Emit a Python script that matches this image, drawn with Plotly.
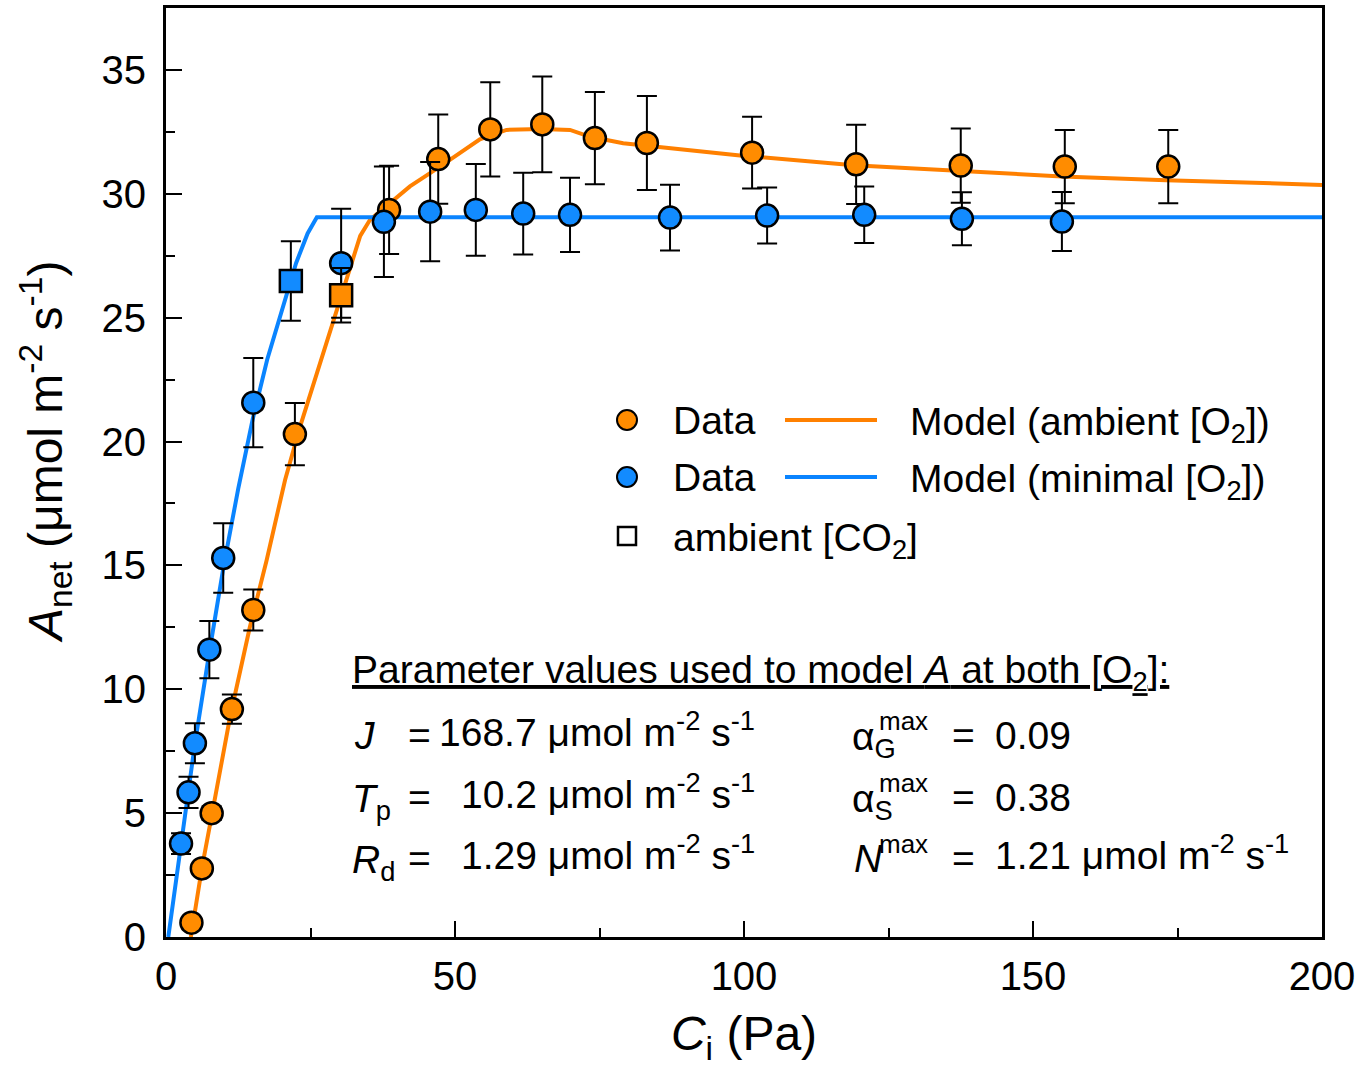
import plotly.graph_objects as go

# ---------------- data ----------------
# Ambient [O2] measurements (orange circles)
orange_ci = [4.4, 6.2, 7.9, 11.4, 15.1, 22.3, 38.6, 47.1, 56.1, 65.1, 74.2, 83.2, 101.4, 119.4, 137.5, 155.5, 173.4]
orange_a = [0.58, 2.77, 5.0, 9.2, 13.2, 20.3, 29.35, 31.4, 32.6, 32.8, 32.25, 32.05, 31.66, 31.19, 31.14, 31.1, 31.1]
orange_err = [0.0, 0.0, 0.28, 0.59, 0.83, 1.26, 1.78, 1.8, 1.9, 1.93, 1.86, 1.9, 1.45, 1.6, 1.5, 1.48, 1.48]

# Ambient [O2] at ambient [CO2] (orange square)
orange_sq_ci = [30.3]
orange_sq_a = [25.9]
orange_sq_err = [1.1]

# Minimal [O2] measurements (blue circles)
blue_ci = [2.6, 3.9, 5.0, 7.5, 9.9, 15.1, 30.3, 37.7, 45.7, 53.6, 61.8, 69.9, 87.2, 104.0, 120.8, 137.7, 155.0]
blue_a = [3.77, 5.84, 7.82, 11.6, 15.3, 21.57, 27.2, 28.87, 29.28, 29.35, 29.2, 29.15, 29.04, 29.12, 29.15, 28.99, 28.88]
blue_err = [0.42, 0.63, 0.81, 1.16, 1.4, 1.8, 2.2, 2.23, 2.0, 1.85, 1.65, 1.5, 1.33, 1.13, 1.14, 1.07, 1.19]

# Minimal [O2] at ambient [CO2] (blue square)
blue_sq_ci = [21.6]
blue_sq_a = [26.48]
blue_sq_err = [1.6]

# Model curves
model_amb_ci = [4.3, 6.2, 8.2, 11.1, 14.5, 17.4, 20.6, 23.2, 26.1, 29.0, 31.3, 33.6, 35.3, 38.2, 42.2,
                47.4, 54.3, 58.9, 65.0, 69.9, 73.4, 79.1, 87.8, 99.3, 119.0, 137.5, 155.0, 173.0, 200.0]
model_amb_a = [0.0, 2.77, 5.26, 8.9, 12.5, 15.2, 18.45, 20.6, 22.75, 24.9, 26.5, 28.3, 28.95, 29.5, 30.3,
               31.1, 32.2, 32.58, 32.62, 32.58, 32.3, 32.04, 31.84, 31.55, 31.15, 30.9, 30.7, 30.55, 30.36]
model_min_ci = [0.4, 2.5, 5.0, 7.5, 10.0, 12.5, 15.0, 17.5, 20.0, 22.5, 24.5, 26.1, 200.0]
model_min_a = [0.0, 3.7, 7.8, 11.5, 15.0, 18.1, 20.9, 23.3, 25.3, 27.2, 28.4, 29.05, 29.05]

x_ticks = [0, 50, 100, 150, 200]
y_ticks = [0, 5, 10, 15, 20, 25, 30, 35]

# ---------------- styling ----------------
ORANGE_LINE = "#FF8000"
ORANGE_FILL = "#FF8C00"
BLUE_LINE = "#0A84FF"
BLUE_FILL = "#128BFF"
FONT = "Liberation Sans, Arial, sans-serif"

W, H = 1366, 1067
L, R, T, B = 166, 44, 8, 130
X_RANGE = [0, 200]
Y_RANGE = [0, 37.5]


def px2x(p):
    return (p - L) / (W - L - R) * (X_RANGE[1] - X_RANGE[0]) + X_RANGE[0]


def px2y(p):
    return (H - B - p) / (H - B - T) * (Y_RANGE[1] - Y_RANGE[0]) + Y_RANGE[0]


err_style = dict(type="data", color="black", thickness=2, width=10)
mk_line = dict(color="black", width=2.5)

fig = go.Figure()
fig.add_trace(go.Scatter(x=model_amb_ci, y=model_amb_a, mode="lines",
                         line=dict(color=ORANGE_LINE, width=4), showlegend=False, hoverinfo="skip"))
fig.add_trace(go.Scatter(x=model_min_ci, y=model_min_a, mode="lines",
                         line=dict(color=BLUE_LINE, width=4), showlegend=False, hoverinfo="skip"))
fig.add_trace(go.Scatter(x=orange_ci, y=orange_a, mode="markers",
                         error_y=dict(array=orange_err, **err_style),
                         marker=dict(symbol="circle", size=22, color=ORANGE_FILL, line=mk_line),
                         showlegend=False))
fig.add_trace(go.Scatter(x=blue_ci, y=blue_a, mode="markers",
                         error_y=dict(array=blue_err, **err_style),
                         marker=dict(symbol="circle", size=22, color=BLUE_FILL, line=mk_line),
                         showlegend=False))
fig.add_trace(go.Scatter(x=orange_sq_ci, y=orange_sq_a, mode="markers",
                         error_y=dict(array=orange_sq_err, **err_style),
                         marker=dict(symbol="square", size=22, color=ORANGE_FILL, line=mk_line),
                         showlegend=False))
fig.add_trace(go.Scatter(x=blue_sq_ci, y=blue_sq_a, mode="markers",
                         error_y=dict(array=blue_sq_err, **err_style),
                         marker=dict(symbol="square", size=22, color=BLUE_FILL, line=mk_line),
                         showlegend=False))

annotations = []
shapes = []


def text(px, py, s, size=39, xanchor="left", color="black"):
    annotations.append(dict(x=px2x(px), y=px2y(py), xref="x", yref="y", text=s, showarrow=False,
                            xanchor=xanchor, yanchor="middle",
                            font=dict(family=FONT, size=size, color=color)))


# ---------------- legend (drawn as a key) ----------------
rows = [420, 477, 536]
for py, fill in [(rows[0], ORANGE_FILL), (rows[1], BLUE_FILL)]:
    shapes.append(dict(type="circle", xref="x", yref="y", xsizemode="pixel", ysizemode="pixel",
                       xanchor=px2x(627), yanchor=px2y(py), x0=-10, x1=10, y0=-10, y1=10,
                       fillcolor=fill, line=dict(color="black", width=2)))
shapes.append(dict(type="rect", xref="x", yref="y", xsizemode="pixel", ysizemode="pixel",
                   xanchor=px2x(627), yanchor=px2y(rows[2]), x0=-9, x1=9, y0=-9, y1=9,
                   fillcolor="white", line=dict(color="black", width=2.5)))
for py, col in [(rows[0], ORANGE_LINE), (rows[1], BLUE_LINE)]:
    shapes.append(dict(type="line", xref="x", yref="y", x0=px2x(785), x1=px2x(877),
                       y0=px2y(py), y1=px2y(py), line=dict(color=col, width=4)))
text(671, rows[0], "Data")
text(671, rows[1], "Data")
text(908, rows[0] + 4, "Model (ambient [O<sub>2</sub>])")
text(908, rows[1] + 4, "Model (minimal [O<sub>2</sub>])")
text(671, rows[2] + 4, "ambient [CO<sub>2</sub>]")

# ---------------- parameter block ----------------
text(350, 672, "<u>Parameter values used to model <i>A</i> at both [O<sub>2</sub>]:</u>")
prow = [735, 797, 858]
text(352, prow[0], "<i>J</i>")
text(350, prow[1] + 4, "<i>T</i><sub>p</sub>")
text(350, prow[2] + 4, "<i>R</i><sub>d</sub>")
for py in prow:
    text(406, py, "=")
text(757, prow[0] - 6, "168.7 μmol m<sup>-2</sup> s<sup>-1</sup>", xanchor="right")
text(757, prow[1] - 6, "10.2 μmol m<sup>-2</sup> s<sup>-1</sup>", xanchor="right")
text(757, prow[2] - 6, "1.29 μmol m<sup>-2</sup> s<sup>-1</sup>", xanchor="right")

text(850, prow[0] + 4, "α<sub>G</sub>")
text(850, prow[1] + 4, "α<sub>S</sub>")
text(852, prow[2], "<i>N</i>")
for py in prow:
    text(877, py - 14, "max", size=26)
    text(950, py, "=")
text(993, prow[0], "0.09")
text(993, prow[1], "0.38")
text(993, prow[2] - 6, "1.21 μmol m<sup>-2</sup> s<sup>-1</sup>")

# y-axis title (placed like the reference, slightly above the axis centre)
annotations.append(dict(x=(45 - L) / (W - L - R), y=px2y(452), xref="paper", yref="y",
                        text="<i>A</i><sub>net</sub> (μmol m<sup>-2</sup> s<sup>-1</sup>)",
                        textangle=-90, showarrow=False, xanchor="center", yanchor="middle",
                        font=dict(family=FONT, size=48, color="black")))

axis_common = dict(
    showline=True, linecolor="black", linewidth=3, mirror=True,
    ticks="inside", ticklen=16, tickwidth=2, tickcolor="black",
    showgrid=False, zeroline=False,
    tickfont=dict(family=FONT, size=40, color="black"),
)

fig.update_layout(
    width=W, height=H,
    margin=dict(l=L, r=R, t=T, b=B, autoexpand=False),
    paper_bgcolor="white", plot_bgcolor="white",
    showlegend=False,
    font=dict(family=FONT, color="black"),
    xaxis=dict(range=X_RANGE, tickvals=x_ticks, ticklabelstandoff=2,
               minor=dict(dtick=25, ticklen=9, tickwidth=2, tickcolor="black", ticks="inside"),
               title=dict(text="<i>C</i><sub>i</sub> (Pa)", font=dict(family=FONT, size=48), standoff=28),
               **axis_common),
    yaxis=dict(range=Y_RANGE, tickvals=y_ticks, ticklabelstandoff=9,
               minor=dict(dtick=2.5, ticklen=9, tickwidth=2, tickcolor="black", ticks="inside"),
               **axis_common),
    annotations=annotations,
    shapes=shapes,
)

fig.write_html("out.html", config={"displayModeBar": False},
               post_script="document.body.style.margin='0';")
